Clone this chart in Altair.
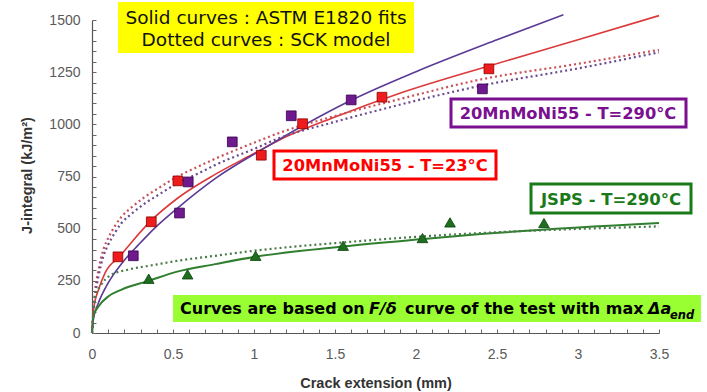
import altair as alt
import pandas as pd

# ---------------- data (crack extension in mm, J in kJ/m2) ----------------
# 20MnMoNi55, T=23 C
red_pts_x = [0.16, 0.366, 0.53, 1.045, 1.30, 1.79, 2.45]
red_pts_j = [365, 533, 729, 852, 1003, 1130, 1266]
red_fit_x = [0, 0.01, 0.04, 0.08, 0.17, 0.36, 0.53, 0.76, 1.0, 1.16, 1.5, 1.9, 2.45, 3.0, 3.5]
red_fit_j = [0, 115, 207, 287, 367, 535, 647, 760, 860, 926, 1035, 1149, 1280, 1405, 1521]
red_sck_x = [0, 0.02, 0.04, 0.07, 0.1, 0.14, 0.18, 0.25, 0.33, 0.41, 0.51, 0.67, 0.76,
             1.0, 1.16, 1.5, 1.88, 2.4, 3.0, 3.5]
red_sck_j = [0, 207, 303, 399, 455, 511, 555, 606, 654, 694, 742, 803, 835,
             912, 960, 1040, 1117, 1215, 1290, 1357]

# 20MnMoNi55, T=290 C
pur_pts_x = [0.255, 0.54, 0.594, 0.866, 1.23, 1.60, 2.41]
pur_pts_j = [370, 575, 724, 916, 1041, 1117, 1170]
pur_fit_x = [0, 0.01, 0.04, 0.1, 0.18, 0.29, 0.39, 0.53, 0.76, 1.04, 1.16, 1.6, 2.0, 2.5, 2.91]
pur_fit_j = [0, 72, 145, 240, 330, 425, 505, 600, 740, 875, 930, 1115, 1252, 1405, 1525]
pur_sck_x = [0, 0.02, 0.04, 0.07, 0.1, 0.14, 0.18, 0.25, 0.33, 0.41, 0.51, 0.67, 0.76,
             1.0, 1.16, 1.5, 1.88, 2.4, 3.0, 3.5]
pur_sck_j = [0, 180, 271, 367, 423, 479, 525, 575, 623, 662, 710, 770, 805,
             882, 935, 1012, 1090, 1185, 1268, 1345]

# JSPS, T=290 C
grn_pts_x = [0.35, 0.59, 1.01, 1.55, 2.04, 2.21, 2.79]
grn_pts_j = [260, 281, 370, 418, 455, 530, 527]
grn_fit_x = [0, 0.008, 0.04, 0.1, 0.18, 0.35, 0.52, 0.76, 1.02, 1.55, 2.04, 2.4, 3.5]
grn_fit_j = [0, 80, 127, 175, 207, 250, 293, 330, 367, 415, 450, 474, 527]
grn_sck_x = [0, 0.018, 0.05, 0.08, 0.12, 0.22, 0.39, 0.52, 0.76, 1.02, 1.55, 2.04, 2.4, 3.5]
grn_sck_j = [0, 175, 223, 255, 279, 303, 327, 345, 370, 396, 434, 463, 479, 511]

x_major = [0, 0.5, 1, 1.5, 2, 2.5, 3, 3.5]
y_major = [0, 250, 500, 750, 1000, 1250, 1500]
x_minor = [round(i * 0.1, 1) for i in range(36)]
y_minor = [i * 50 for i in range(31)]

# ---------------- layout ----------------
PLOT_W, PLOT_H = 567, 313
LEFT, TOP = 92, 20

LABEL_FONT = "Liberation Sans"
BOX_FONT = "DejaVu Sans"


def xs_scale():
    return alt.Scale(domain=[0, 3.5], nice=False, zero=False)


def ys_scale():
    return alt.Scale(domain=[0, 1500], nice=False, zero=False)


x_axis_main = alt.Axis(
    values=x_major, title="Crack extension (mm)", grid=False, tickSize=0,
    labelPadding=14, labelFont=LABEL_FONT, labelFontSize=14, labelColor="#5a5a5a",
    labelFlush=False,
    titleFont=LABEL_FONT, titleFontSize=14.5, titleFontWeight="bold", titleColor="#333333",
    titlePadding=15, domainColor="#555555", domainWidth=1.2,
    labelExpr="format(datum.value, '.2~f')",
)
y_axis_main = alt.Axis(
    values=y_major, title="J-integral (kJ/m²)", grid=False, tickSize=0,
    labelPadding=12, labelFont=LABEL_FONT, labelFontSize=14, labelColor="#5a5a5a",
    labelFlush=False, format="d",
    titleFont=LABEL_FONT, titleFontSize=14.5, titleFontWeight="bold", titleColor="#333333",
    titleX=-58, titleY=155, domainColor="#555555", domainWidth=1.2,
)
# inward-pointing minor ticks, drawn by a second axis pushed into the plot
x_axis_ticks = alt.Axis(
    values=x_minor, orient="bottom", offset=-4, tickSize=4, tickColor="#666666",
    labels=False, domain=False, grid=False, title=None,
)
y_axis_ticks = alt.Axis(
    values=y_minor, orient="left", offset=-4, tickSize=4, tickColor="#666666",
    labels=False, domain=False, grid=False, title=None,
)


def frame(xs, js):
    return pd.DataFrame({"x": xs, "j": js})


def curve(xs, js, color, dashed, width, x_axis=None, y_axis=None):
    kw = dict(color=color, strokeWidth=width, interpolate="monotone")
    if dashed:
        kw["strokeDash"] = [2, 3]
    return alt.Chart(frame(xs, js)).mark_line(**kw).encode(
        x=alt.X("x:Q", scale=xs_scale(), axis=x_axis),
        y=alt.Y("j:Q", scale=ys_scale(), axis=y_axis),
    )


def points(xs, js, shape, fill, stroke, size):
    return alt.Chart(frame(xs, js)).mark_point(
        shape=shape, filled=True, fill=fill, stroke=stroke, strokeWidth=0.8,
        size=size, opacity=1,
    ).encode(
        x=alt.X("x:Q", scale=xs_scale(), axis=None),
        y=alt.Y("j:Q", scale=ys_scale(), axis=None),
    )


def box(x0, y0, x1, y1, fill, stroke=None, sw=0):
    kw = dict(fill=fill)
    if stroke:
        kw.update(stroke=stroke, strokeWidth=sw)
    return alt.Chart(pd.DataFrame({"a": [0]})).mark_rect(**kw).encode(
        x=alt.value(x0 - LEFT), x2=alt.value(x1 - LEFT),
        y=alt.value(y0 - TOP), y2=alt.value(y1 - TOP),
    )


def label(txt, px, py, color, size, weight="normal", style="normal", align="center"):
    return alt.Chart(pd.DataFrame({"t": [txt]})).mark_text(
        font=BOX_FONT, fontSize=size, fontWeight=weight, fontStyle=style,
        color=color, align=align, baseline="alphabetic",
    ).encode(text="t:N", x=alt.value(px - LEFT), y=alt.value(py - TOP))


RED, RED_LINE = "#ee1c1c", "#dc3a3a"
PUR, PUR_LINE = "#6e1a8c", "#5b3a96"
GRN, GRN_LINE = "#1d6e1d", "#2f7f2f"

layers = [
    curve(red_fit_x, red_fit_j, RED_LINE, False, 1.6, x_axis_main, y_axis_main),
    curve(pur_fit_x, pur_fit_j, PUR_LINE, False, 1.6, x_axis_ticks, y_axis_ticks),
    curve(grn_fit_x, grn_fit_j, GRN_LINE, False, 2.0),
    curve(red_sck_x, red_sck_j, "#c8505a", True, 2.2),
    curve(pur_sck_x, pur_sck_j, "#6a4a90", True, 2.2),
    curve(grn_sck_x, grn_sck_j, "#4a7a4a", True, 2.2),
    points(red_pts_x, red_pts_j, "square", RED, "#8a0000", 95),
    points(pur_pts_x, pur_pts_j, "square", PUR, "#3a0050", 95),
    points(grn_pts_x, grn_pts_j, "triangle-up", GRN, "#0a400a", 115),
    # notes
    box(118, 2, 414, 53, "#ffff00"),
    label("Solid curves : ASTM E1820 fits", 266, 24, "#111111", 18.5),
    label("Dotted curves : SCK model", 266, 46, "#111111", 18.5),
    box(274, 151, 496, 179, "#ffffff", "#ff0000", 3),
    label("20MnMoNi55 - T=23°C", 385, 171, "#ff0000", 16.3, "bold"),
    box(451, 99, 686, 127, "#ffffff", "#7a1090", 3),
    label("20MnMoNi55 - T=290°C", 568, 119, "#7a1090", 16.3, "bold"),
    box(531, 184, 691, 213, "#ffffff", "#1a7a1a", 3),
    label("JSPS - T=290°C", 611, 205, "#1a7a1a", 16.5, "bold"),
    box(173, 295, 701, 322, "#99ff33"),
    label("Curves are based on", 180, 314, "#000000", 16, "bold", align="left"),
    label("F/δ", 369, 314, "#000000", 16, "bold", "italic", align="left"),
    label("curve of the test with max", 405, 314, "#000000", 16, "bold", align="left"),
    label("Δa", 648, 314, "#000000", 16, "bold", "italic", align="left"),
    label("end", 670, 319, "#000000", 11.5, "bold", "italic", align="left"),
]

chart = (
    alt.layer(*layers)
    .resolve_scale(x="independent", y="independent")
    .resolve_axis(x="independent", y="independent")
    .properties(
        width=PLOT_W, height=PLOT_H,
        autosize=alt.AutoSizeParams(type="none"),
        padding={"left": LEFT, "top": TOP, "right": 707 - LEFT - PLOT_W, "bottom": 392 - TOP - PLOT_H},
        background="white",
    )
    .configure_view(stroke=None)
)

chart.save("out.html", embed_options={"renderer": "svg", "actions": False})
